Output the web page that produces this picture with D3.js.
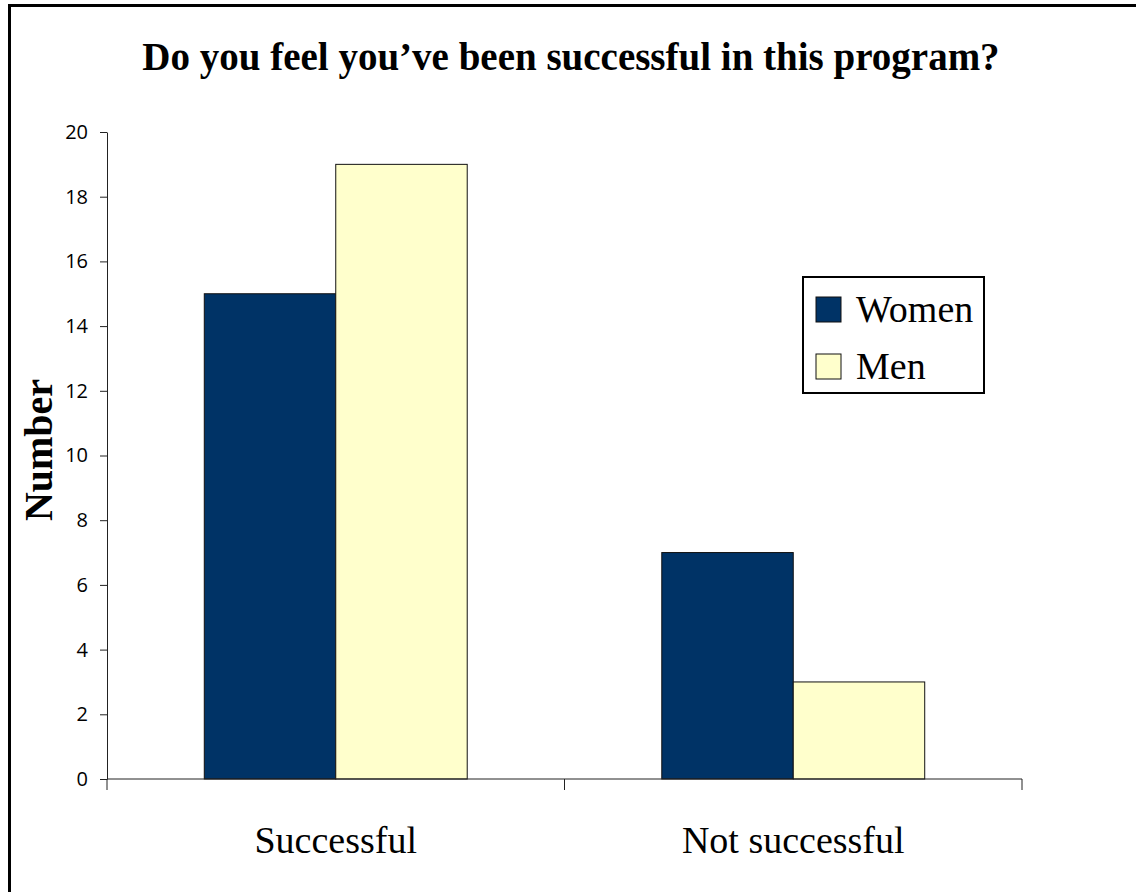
<!DOCTYPE html>
<html>
<head>
<meta charset="utf-8">
<title>Success in program</title>
<style>
body { margin: 0; background: #fff; }
svg { display: block; }
</style>
<script src="https://d3js.org/d3.v7.min.js"></script>
</head>
<body>
<svg id="chart" width="1136" height="892"></svg>
<script>
// data
const categories = ["Successful", "Not successful"];
const series = ["Women", "Men"];
const women = [15, 7];
const men = [19, 3];
const yTicks = [0, 2, 4, 6, 8, 10, 12, 14, 16, 18, 20];
const colors = ["#003366", "#FFFFCC"];

const svg = d3.select("#chart");
const W = 1136, H = 892;
const plot = { left: 107, right: 1022, top: 132, bottom: 779 };
const serif = "'Liberation Serif', 'Times New Roman', serif";

// outer frame (only left/top edges fall inside the picture)
svg.append("rect")
    .attr("x", 9.5).attr("y", 5.5)
    .attr("width", W + 20).attr("height", H + 20)
    .attr("fill", "white")
    .attr("stroke", "black")
    .attr("stroke-width", 3);

svg.append("text")
    .attr("x", 571).attr("y", 70)
    .attr("text-anchor", "middle")
    .style("font-family", serif)
    .style("font-weight", "bold")
    .style("font-size", "39px")
    .text("Do you feel you\u2019ve been successful in this program?");

const x0 = d3.scaleBand().domain(categories).range([plot.left, plot.right]).padding(0);
const x1 = d3.scaleBand().domain(series).range([0, x0.bandwidth()])
    .paddingInner(0).paddingOuter(0.74);
const y = d3.scaleLinear().domain([0, 20]).range([plot.bottom, plot.top]);

const rows = categories.map((c, i) => ({ cat: c, vals: [women[i], men[i]] }));

const groups = svg.selectAll("g.cat")
    .data(rows)
    .enter()
    .append("g")
    .attr("class", "cat")
    .attr("transform", d => `translate(${x0(d.cat)},0)`);

groups.selectAll("rect")
    .data(d => d.vals.map((v, j) => ({ key: series[j], v: v, j: j })))
    .enter()
    .append("rect")
    .attr("x", d => x1(d.key))
    .attr("y", d => y(d.v))
    .attr("width", x1.bandwidth())
    .attr("height", d => y(0) - y(d.v))
    .attr("fill", d => colors[d.j])
    .attr("stroke", "#111")
    .attr("stroke-width", 1);

// y axis
const yAxis = svg.append("g")
    .attr("transform", `translate(${plot.left},0)`)
    .call(d3.axisLeft(y).tickValues(yTicks).tickSize(7).tickPadding(12).tickSizeOuter(0));
yAxis.select(".domain").attr("stroke", "#222");
yAxis.selectAll(".tick line").attr("stroke", "#222");
yAxis.selectAll("text")
    .style("font-family", "'Open Sans', 'Noto Sans', sans-serif")
    .style("font-size", "20px")
    .attr("fill", "#000");

// x axis with boundary ticks between categories
const xAxis = svg.append("g").attr("transform", `translate(0,${plot.bottom})`);
xAxis.append("line")
    .attr("x1", plot.left).attr("x2", plot.right)
    .attr("stroke", "#222");
const bounds = [plot.left].concat(categories.map(c => x0(c) + x0.bandwidth()));
xAxis.selectAll("line.tk")
    .data(bounds)
    .enter()
    .append("line")
    .attr("class", "tk")
    .attr("x1", d => d).attr("x2", d => d)
    .attr("y1", 0).attr("y2", 11)
    .attr("stroke", "#222");
xAxis.selectAll("text")
    .data(categories)
    .enter()
    .append("text")
    .attr("x", d => x0(d) + x0.bandwidth() / 2)
    .attr("y", 74)
    .attr("text-anchor", "middle")
    .style("font-family", serif)
    .style("font-size", "38px")
    .text(d => d);

svg.append("text")
    .attr("transform", "translate(52,450) rotate(-90)")
    .attr("text-anchor", "middle")
    .style("font-family", serif)
    .style("font-weight", "bold")
    .style("font-size", "40px")
    .text("Number");

// legend
const legend = svg.append("g").attr("transform", "translate(803,277)");
legend.append("rect")
    .attr("width", 181).attr("height", 116)
    .attr("fill", "white")
    .attr("stroke", "black")
    .attr("stroke-width", 2);
const items = legend.selectAll("g.item")
    .data(series)
    .enter()
    .append("g")
    .attr("class", "item")
    .attr("transform", (d, i) => `translate(13,${20 + i * 57})`);
items.append("rect")
    .attr("width", 25).attr("height", 25)
    .attr("fill", (d, i) => colors[i])
    .attr("stroke", "#111");
items.append("text")
    .attr("x", 40).attr("y", 25)
    .style("font-family", serif)
    .style("font-size", "38px")
    .text(d => d);
</script>
</body>
</html>
